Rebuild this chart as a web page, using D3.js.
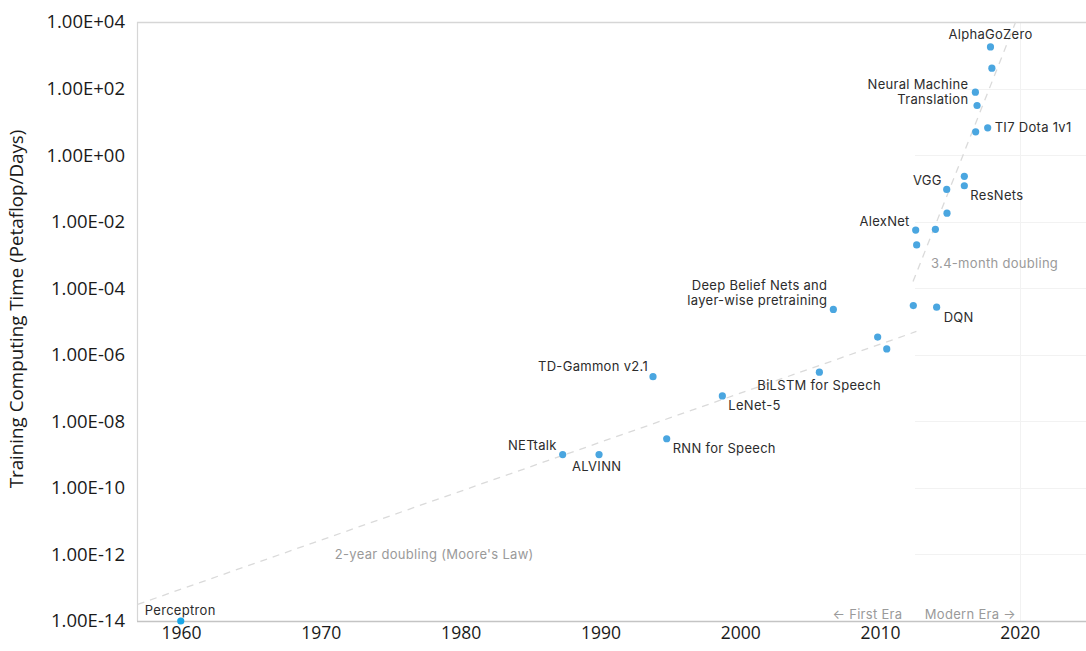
<!DOCTYPE html>
<html>
<head>
<meta charset="utf-8">
<script src="https://cdn.jsdelivr.net/npm/d3@7/dist/d3.min.js"></script>
<style>
  html, body { margin: 0; padding: 0; background: #fff; }
  svg { display: block; }
</style>
</head>
<body>
<svg id="chart" width="1086" height="651"></svg>
<script>
// Training compute of notable AI systems (petaflop/s-days), by year.
const modelNames = [
  "Perceptron", "NETtalk", "ALVINN", "TD-Gammon v2.1", "RNN for Speech",
  "LeNet-5", "BiLSTM for Speech", "Deep Belief Nets", "", "",
  "", "DQN", "AlexNet", "", "",
  "", "VGG", "ResNets", "", "",
  "TI7 Dota 1v1", "Neural Machine Translation", "", "", "AlphaGoZero"
];
const modelYears = [
  1959.98, 1987.3, 1989.9, 1993.76, 1994.74,
  1998.72, 2005.66, 2006.66, 2009.83, 2010.48,
  2012.38, 2014.05, 2012.55, 2012.62, 2013.96,
  2014.79, 2014.77, 2016.03, 2016.03, 2016.84,
  2017.7, 2016.82, 2016.94, 2018.0, 2017.9
];
const modelCompute = [
  1e-14, 1e-9, 1e-9, 2.2e-7, 3.0e-9,
  5.8e-8, 3.0e-7, 2.3e-5, 3.4e-6, 1.5e-6,
  3.0e-5, 2.7e-5, 5.6e-3, 2.0e-3, 5.9e-3,
  1.8e-2, 9.3e-2, 0.12, 0.23, 5.0,
  6.6, 78, 31, 410, 1780
];

// Trend lines: [startYear, endYear] and [startValue, endValue]
const trendNames = ["2-year doubling (Moore's Law)", "3.4-month doubling"];
const trendYears = [[1956.9, 2012.6], [2012.36, 2019.7]];
const trendValues = [[10 ** -13.5, 10 ** -5.3], [10 ** -3.8, 1e4]];

// Axis ticks
const yTickValues = [1e4, 1e2, 1e0, 1e-2, 1e-4, 1e-6, 1e-8, 1e-10, 1e-12, 1e-14];
const yTickLabels = ["1.00E+04", "1.00E+02", "1.00E+00", "1.00E-02", "1.00E-04",
                     "1.00E-06", "1.00E-08", "1.00E-10", "1.00E-12", "1.00E-14"];
const xTickValues = [1960, 1970, 1980, 1990, 2000, 2010, 2020];
const xTickLabels = ["1960", "1970", "1980", "1990", "2000", "2010", "2020"];

// Annotation placement relative to each labelled point (index, anchor, dx, dy per line)
const labelLayout = [
  { i: 0,  anchor: "start",  dx: -36, lines: [["Perceptron", -11]] },
  { i: 1,  anchor: "end",    dx: -6,  lines: [["NETtalk", -9]] },
  { i: 2,  anchor: "start",  dx: -27, lines: [["ALVINN", 12]] },
  { i: 3,  anchor: "end",    dx: -5,  lines: [["TD-Gammon v2.1", -10]] },
  { i: 4,  anchor: "start",  dx: 6,   lines: [["RNN for Speech", 10]] },
  { i: 5,  anchor: "start",  dx: 6,   lines: [["LeNet-5", 10]] },
  { i: 6,  anchor: "start",  dx: -62, lines: [["BiLSTM for Speech", 13]] },
  { i: 7,  anchor: "end",    dx: -6,  lines: [["Deep Belief Nets and", -24], ["layer-wise pretraining", -9]] },
  { i: 11, anchor: "start",  dx: 7,   lines: [["DQN", 10]] },
  { i: 12, anchor: "end",    dx: -6,  lines: [["AlexNet", -9]] },
  { i: 16, anchor: "end",    dx: -5,  lines: [["VGG", -9]] },
  { i: 17, anchor: "start",  dx: 6,   lines: [["ResNets", 10]] },
  { i: 20, anchor: "start",  dx: 7,   lines: [["TI7 Dota 1v1", 0]] },
  { i: 21, anchor: "end",    dx: -7,  lines: [["Neural Machine", -8], ["Translation", 7]] },
  { i: 24, anchor: "middle", dx: 0,   lines: [["AlphaGoZero", -12]] }
];

const svg = d3.select("#chart");
const plot = { left: 137, top: 22, right: 1092, bottom: 621 };

const x = d3.scaleLinear().domain([1956.85, 2024.75]).range([plot.left, plot.left + (2024.75 - 1956.85) * 13.98]);
const y = d3.scaleLog().domain([1e-14, 1e4]).range([plot.bottom, plot.top]);

const labelFont = "Inter, 'Noto Sans', sans-serif";
const axisFont = "'Open Sans', 'Noto Sans', sans-serif";

// faint grid that shows only in the right part of the plot
const grid = svg.append("g").attr("stroke", "#f2f2f2").attr("stroke-width", 1);
grid.selectAll("line.h")
  .data(yTickValues.slice(1, -1))
  .join("line")
  .attr("x1", x(2012.5)).attr("x2", plot.right)
  .attr("y1", d => Math.round(y(d)) + 0.5).attr("y2", d => Math.round(y(d)) + 0.5);
grid.append("line")
  .attr("x1", Math.round(x(2020)) + 0.5).attr("x2", Math.round(x(2020)) + 0.5)
  .attr("y1", plot.top).attr("y2", plot.bottom);

// plot frame
svg.append("line").attr("x1", plot.left + 0.5).attr("x2", plot.left + 0.5)
  .attr("y1", plot.top).attr("y2", plot.bottom).attr("stroke", "#d6d6d6").attr("stroke-width", 1.2);
svg.append("line").attr("x1", plot.left).attr("x2", plot.right)
  .attr("y1", plot.top + 0.5).attr("y2", plot.top + 0.5).attr("stroke", "#d6d6d6").attr("stroke-width", 1.5);
svg.append("line").attr("x1", plot.left).attr("x2", plot.right)
  .attr("y1", plot.bottom + 0.5).attr("y2", plot.bottom + 0.5).attr("stroke", "#c4c4c4").attr("stroke-width", 1.3);

// Y axis
const yAxis = d3.axisLeft(y).tickValues(yTickValues)
  .tickFormat((d, i) => yTickLabels[i]).tickSize(0).tickPadding(12);
svg.append("g").attr("transform", `translate(${plot.left},0)`).call(yAxis)
  .call(g => g.select(".domain").remove())
  .selectAll("text").attr("font-family", axisFont).attr("font-size", 18.5).attr("fill", "#1a1a1a");

// X axis
const xAxis = d3.axisBottom(x).tickValues(xTickValues)
  .tickFormat((d, i) => xTickLabels[i]).tickSize(0).tickPadding(6);
svg.append("g").attr("transform", `translate(0,${plot.bottom})`).call(xAxis)
  .call(g => g.select(".domain").remove())
  .selectAll("text").attr("font-family", axisFont).attr("font-size", 17.5).attr("fill", "#1a1a1a");

// Y axis title
svg.append("text")
  .attr("transform", "translate(23,309) rotate(-90)")
  .attr("text-anchor", "middle")
  .attr("font-family", axisFont).attr("font-size", 18.8).attr("fill", "#1a1a1a")
  .text("Training Computing Time (Petaflop/Days)");

// trend lines
trendNames.forEach((name, k) => {
  svg.append("line")
    .attr("x1", x(trendYears[k][0])).attr("y1", y(trendValues[k][0]))
    .attr("x2", x(trendYears[k][1])).attr("y2", y(trendValues[k][1]))
    .attr("stroke", "#dadada").attr("stroke-width", 1.3).attr("stroke-dasharray", "7,6");
});

// trend and era annotations
const grayNotes = [
  { text: trendNames[0], year: 1971.0, value: 10 ** -12.0, anchor: "start" },
  { text: trendNames[1], year: 2013.65, value: 10 ** -3.25, anchor: "start" },
  { text: "\u2190 First Era", year: 2011.6, value: 10 ** -13.8, anchor: "end" },
  { text: "Modern Era \u2192", year: 2013.2, value: 10 ** -13.8, anchor: "start" }
];
svg.append("g").selectAll("text").data(grayNotes).join("text")
  .attr("x", d => x(d.year)).attr("y", d => y(d.value)).attr("dy", "0.35em")
  .attr("text-anchor", d => d.anchor)
  .attr("font-family", labelFont).attr("font-size", 13).attr("letter-spacing", 0.3)
  .attr("fill", "#9a9a9a")
  .text(d => d.text);

// data points
svg.append("g").selectAll("circle").data(modelYears).join("circle")
  .attr("cx", (d, i) => x(d)).attr("cy", (d, i) => y(modelCompute[i]))
  .attr("r", 3.6).attr("fill", (d, i) => i === 0 ? "#1aa6e6" : "#4aa6e0");

// point labels
const lbl = svg.append("g").attr("font-family", labelFont).attr("font-size", 13)
  .attr("letter-spacing", 0.3).attr("fill", "#2c2c2c");
labelLayout.forEach(l => {
  const px = x(modelYears[l.i]), py = y(modelCompute[l.i]);
  l.lines.forEach(([t, dy]) => {
    lbl.append("text").attr("x", px + l.dx).attr("y", py + dy).attr("dy", "0.35em")
      .attr("text-anchor", l.anchor).text(t);
  });
});
</script>
</body>
</html>
